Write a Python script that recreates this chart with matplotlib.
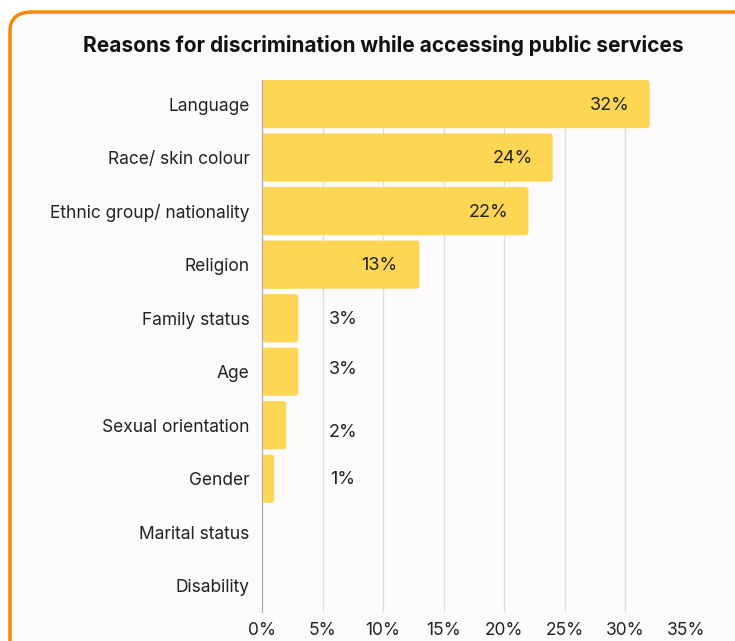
import matplotlib
matplotlib.use("Agg")
import matplotlib.pyplot as plt
from matplotlib.patches import FancyBboxPatch

# share of reported discrimination by reason
reasons = ["Language", "Race/ skin colour", "Ethnic group/ nationality", "Religion",
           "Family status", "Age", "Sexual orientation", "Gender",
           "Marital status", "Disability"]
shares = [32, 24, 22, 13, 3, 3, 2, 1, 0, 0]
ticks = [0, 5, 10, 15, 20, 25, 30, 35]

plt.rcParams['font.family'] = ['Inter', 'DejaVu Sans']

fig = plt.figure(figsize=(7.35, 6.41), dpi=100)
fig.patch.set_facecolor("white")

# orange card behind the chart
card = FancyBboxPatch((10 / 735, 0 - 0.05), 1.05, (641 - 12) / 641 + 0.05,
                      boxstyle="round,pad=0,rounding_size=0.03",
                      transform=fig.transFigure, facecolor="#fdfafb",
                      edgecolor="#f5870c", linewidth=2.5, zorder=-10)
fig.patches.append(card)

ax = fig.add_axes([262 / 735, 29 / 641, 424 / 735, 532 / 641])
ax.set_facecolor("none")

ypos = list(range(len(reasons)))
bars = ax.barh(ypos, shares, height=0.9, color="#ffd653", zorder=2)

# swap the plain rectangles for slightly rounded ones
for b in bars:
    if b.get_width() <= 0:
        b.set_visible(False)
        continue
    rb = FancyBboxPatch((b.get_x(), b.get_y()), b.get_width(), b.get_height(),
                        boxstyle="round,pad=0,rounding_size=0.25",
                        mutation_aspect=0.228, facecolor="#ffd653",
                        edgecolor="none", zorder=2)
    ax.add_patch(rb)
    b.set_visible(False)

# value labels: inside the longer bars, to the right of the short ones
small_dy = [0.02, -0.05, 0.13, 0.02]
k = 0
for y, v in zip(ypos, shares):
    if v == 0:
        continue
    if v >= 10:
        ax.text(v - 3.3, y + 0.02, f"{v}%", ha="center", va="center",
                fontsize=13, color="#222222", zorder=3)
    else:
        ax.text(6.7, y + small_dy[k], f"{v}%", ha="center", va="center",
                fontsize=13, color="#222222", zorder=3)
        k += 1

ax.set_xlim(0, 35)
ax.set_ylim(9.49, -0.45)
ax.set_yticks(ypos)
ax.set_yticklabels(reasons, fontsize=12.5, color="#222222")
ax.set_xticks(ticks)
ax.set_xticklabels([f"{t}%" for t in ticks], fontsize=12.5, color="#222222")
ax.tick_params(axis="y", length=0, pad=9)
ax.tick_params(axis="x", length=0, pad=7)
ax.grid(axis="x", color="#dddddd", linewidth=1, zorder=1)
for s in ["top", "right", "bottom"]:
    ax.spines[s].set_visible(False)
ax.spines["left"].set_color("#aaaaaa")
ax.spines["left"].set_zorder(4)

fig.text(383 / 735, 1 - 45 / 641, "Reasons for discrimination while accessing public services",
         ha="center", va="center", fontsize=15, fontweight="bold", color="#111111")

fig.savefig("out.png", dpi=100)
